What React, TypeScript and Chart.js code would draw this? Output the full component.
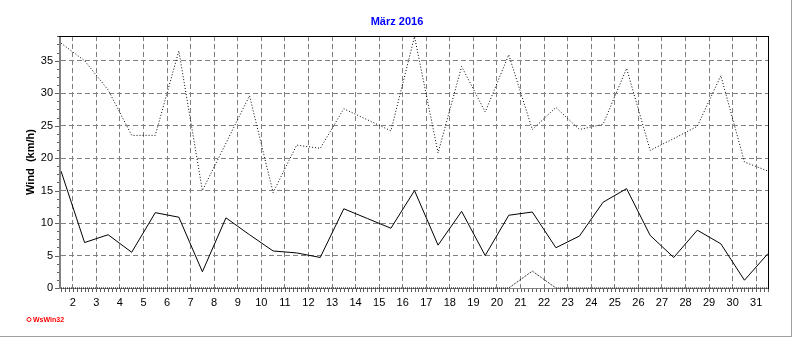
import React, { useEffect, useRef } from "react";
import { Chart, registerables } from "chart.js";

Chart.register(...registerables);

const title = "März 2016";
const yTitle = "Wind  (km/h)";
const logoText = "WsWin32";

const days = [1, 2, 3, 4, 5, 6, 7, 8, 9, 10, 11, 12, 13, 14, 15, 16, 17, 18, 19, 20, 21, 22, 23, 24, 25, 26, 27, 28, 29, 30, 31];
const dayTickLabels = [2, 3, 4, 5, 6, 7, 8, 9, 10, 11, 12, 13, 14, 15, 16, 17, 18, 19, 20, 21, 22, 23, 24, 25, 26, 27, 28, 29, 30, 31];
const yTickLabels = [0, 5, 10, 15, 20, 25, 30, 35];

const windAvg = [18.0, 7.0, 8.2, 5.5, 11.6, 10.9, 2.5, 10.8, 8.2, 5.7, 5.4, 4.7, 12.2, 10.7, 9.2, 15.0, 6.6, 11.8, 5.0, 11.2, 11.7, 6.2, 8.0, 13.2, 15.3, 8.1, 4.7, 8.9, 6.8, 1.2, 5.3];
const windGust = [37.7, 35.0, 30.5, 23.5, 23.5, 36.5, 15.0, 22.3, 29.6, 14.7, 22.0, 21.5, 27.6, 25.9, 24.2, 38.7, 20.8, 34.1, 27.1, 35.9, 24.4, 27.8, 24.4, 25.2, 33.8, 21.2, 23.0, 24.9, 32.7, 19.4, 18.0];
const windMin = [0, 0, 0, 0, 0, 0, 0, 0, 0, 0, 0, 0, 0, 0, 0, 0, 0, 0, 0, 0, 2.6, 0, 0, 0, 0, 0, 0, 0, 0, 0, 0];

const X_MIN = 1.5;
const X_MAX = 31.5;
const Y_MIN = 0;
const Y_MAX = 38.8;
const MID_DAY = 0.5;

const toPoints = (vals: number[]) => vals.map((v, i) => ({ x: days[i] + MID_DAY, y: v }));

const FONT = "'Liberation Sans', Arial, sans-serif";

const framePlugin = {
  id: "frame",
  beforeDatasetsDraw(chart: any) {
    const { ctx, chartArea } = chart;
    const { left, right, top, bottom } = chartArea;
    const xs = chart.scales.x;
    const ys = chart.scales.y;
    ctx.save();
    ctx.fillStyle = "#808080";
    ctx.fillRect(left - 2, top, 2, bottom - top + 1);
    ctx.fillRect(left - 2, bottom, right - left + 3, 1);
    ctx.fillStyle = "#000000";
    ctx.fillRect(left - 2, top, right - left + 3, 1);
    ctx.fillRect(right, top, 1, bottom - top + 1);
    ctx.fillStyle = "#606060";
    for (let k = 0; k <= (X_MAX - X_MIN) * 6; k++) {
      const v = X_MIN + k / 6;
      const px = Math.round(xs.getPixelForValue(v));
      ctx.fillRect(px, bottom + 1, 1, 3);
    }
    for (let v = Y_MIN; v <= Y_MAX + 0.001; v += 1.25) {
      const py = Math.round(ys.getPixelForValue(v));
      const major = Math.abs(v / 5 - Math.round(v / 5)) < 0.001;
      const len = major ? 4 : 2;
      ctx.fillRect(left - 2 - len, py, len, 1);
    }
    ctx.restore();
  },
  afterDraw(chart: any) {
    const { ctx, chartArea, width, height } = chart;
    ctx.save();
    ctx.fillStyle = "#0000FF";
    ctx.font = `bold 11px ${FONT}`;
    ctx.textAlign = "center";
    ctx.textBaseline = "middle";
    ctx.fillText(title, 397, 22);
    ctx.save();
    ctx.translate(31, (chartArea.top + chartArea.bottom) / 2);
    ctx.rotate(-Math.PI / 2);
    ctx.fillStyle = "#000000";
    ctx.font = `bold 11px ${FONT}`;
    ctx.fillText(yTitle, 0, 0);
    ctx.restore();
    ctx.strokeStyle = "#FF0000";
    ctx.fillStyle = "#FF0000";
    ctx.lineWidth = 1;
    ctx.beginPath();
    ctx.arc(29, 319.5, 2, 0, Math.PI * 2);
    ctx.stroke();
    ctx.font = `bold 7px ${FONT}`;
    ctx.textAlign = "left";
    ctx.fillText(logoText, 33, 320);
    ctx.fillStyle = "#A0A0A0";
    ctx.fillRect(width - 1, 0, 1, height);
    ctx.fillRect(0, height - 1, width, 1);
    ctx.restore();
  },
};

export default function App() {
  const ref = useRef<HTMLCanvasElement | null>(null);
  useEffect(() => {
    if (!ref.current) return;
    const chart = new Chart(ref.current, {
      type: "line",
      data: {
        datasets: [
          {
            label: "Böen",
            data: toPoints(windGust),
            borderColor: "#000000",
            borderWidth: 1,
            borderDash: [1, 2],
            pointRadius: 0,
            tension: 0,
            fill: false,
          },
          {
            label: "Wind",
            data: toPoints(windAvg),
            borderColor: "#000000",
            borderWidth: 1,
            pointRadius: 0,
            tension: 0,
            fill: false,
          },
          {
            label: "Min",
            data: toPoints(windMin),
            borderColor: "#000000",
            borderWidth: 1,
            borderDash: [1, 1],
            pointRadius: 0,
            tension: 0,
            fill: false,
            clip: 2,
          },
        ],
      },
      options: {
        animation: false,
        responsive: false,
        devicePixelRatio: 1,
        layout: { padding: { left: 0, right: 24, top: 36, bottom: 0 } },
        plugins: {
          legend: { display: false },
          title: { display: false },
          tooltip: { enabled: false },
        },
        scales: {
          x: {
            type: "linear",
            min: X_MIN,
            max: X_MAX,
            afterFit: (s: any) => {
              s.height = 49;
            },
            afterBuildTicks: (s: any) => {
              s.ticks = dayTickLabels.map((v) => ({ value: v }));
            },
            grid: { color: "#808080", lineWidth: 1, drawTicks: false },
            border: { display: false, dash: [5, 3] },
            ticks: {
              padding: 8,
              color: "#000000",
              font: { family: FONT, size: 11 },
              maxRotation: 0,
              autoSkip: false,
              callback: (v: any) => String(v),
            },
          },
          y: {
            type: "linear",
            min: Y_MIN,
            max: Y_MAX,
            afterFit: (s: any) => {
              s.width = 61;
            },
            afterBuildTicks: (s: any) => {
              s.ticks = yTickLabels.map((v) => ({ value: v }));
            },
            grid: { color: "#808080", lineWidth: 1, drawTicks: false },
            border: { display: false, dash: [5, 3] },
            ticks: {
              padding: 8,
              color: "#000000",
              font: { family: FONT, size: 11 },
              callback: (v: any) => String(v),
            },
          },
        },
      },
      plugins: [framePlugin],
    });
    return () => chart.destroy();
  }, []);
  return (
    <div style={{ position: "absolute", left: 0, top: 0, width: 792, height: 337, background: "#FFFFFF" }}>
      <canvas ref={ref} width={792} height={337} style={{ display: "block" }} />
    </div>
  );
}
